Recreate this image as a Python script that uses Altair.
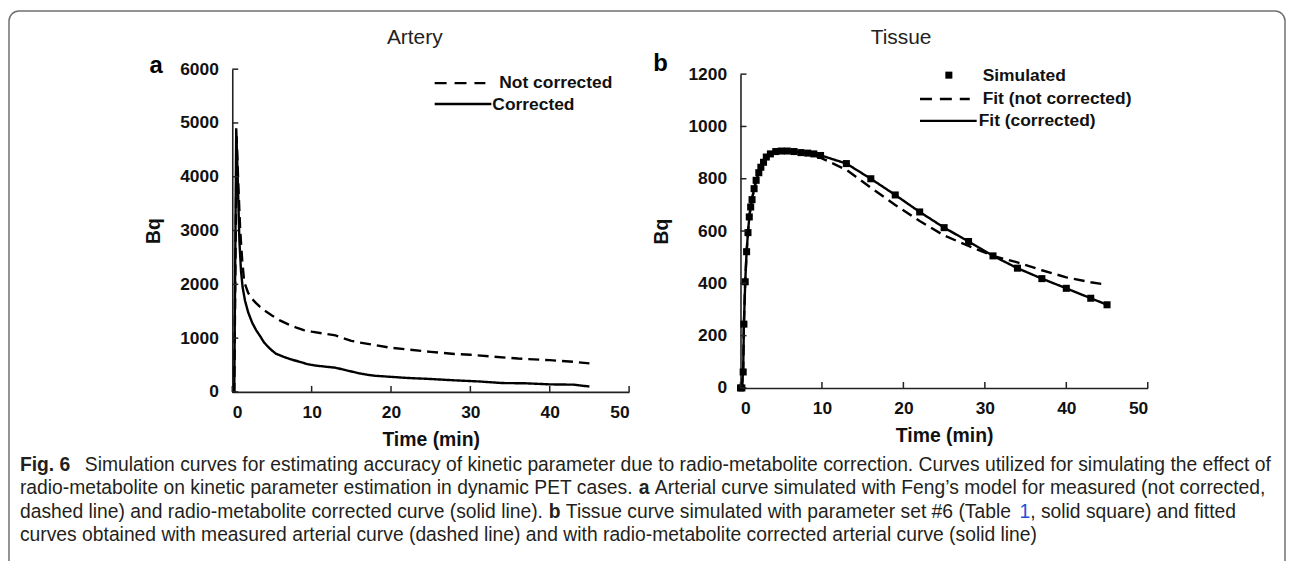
import altair as alt
import pandas as pd

# ---------------- data ----------------
# Panel a: arterial curves
art_time_nc = [0, 0.25, 0.55, 0.75, 1.0, 1.25, 1.5, 2.0, 2.5, 3.0, 3.5, 4.0, 5.0, 6.0, 7.0, 8.0, 9.0,
               10.0, 11.5, 13.0, 14.0, 15.0, 16.0, 18.0, 20.0, 22.0, 25.0, 28.0, 30.0, 33.0, 36.0,
               40.0, 43.0, 45.0]
art_nc = [0, 0, 4750, 3900, 3000, 2450, 2050, 1840, 1730, 1650, 1580, 1520, 1420, 1330, 1260, 1200,
          1150, 1120, 1085, 1050, 1000, 950, 920, 870, 820, 790, 745, 705, 690, 655, 620, 590, 560, 530]

art_time_c = [0, 0.25, 0.5, 0.7, 0.9, 1.1, 1.3, 1.6, 2.0, 2.5, 3.0, 3.5, 4.0, 4.5, 5.0, 5.5, 6.5,
              7.5, 8.5, 9.5, 10.5, 12.0, 13.0, 14.0, 15.0, 16.0, 17.0, 18.0, 20.0, 22.0, 25.0, 28.0,
              31.0, 34.0, 37.0, 40.0, 43.0, 45.0]
art_c = [0, 0, 4900, 3900, 2800, 2250, 1950, 1700, 1480, 1290, 1150, 1040, 920, 840, 770, 710, 650,
         600, 560, 515, 490, 465, 450, 415, 380, 345, 320, 300, 280, 260, 240, 215, 195, 165, 160,
         140, 135, 100]

# Panel b: tissue curve (simulated squares) and fits
sim_time = [0, 0.17, 0.33, 0.42, 0.58, 0.75, 0.92, 1.08, 1.25, 1.42, 1.67, 1.92, 2.25, 2.5, 2.83,
            3.17, 3.67, 4.33, 5.0, 5.75, 6.58, 7.42, 8.25, 9.0, 9.83, 13.0, 16.0, 19.0, 22.0, 25.0,
            28.0, 31.0, 34.0, 37.0, 40.0, 43.0, 45.0]
sim_val = [0, 0, 61, 244, 406, 521, 594, 654, 692, 720, 762, 794, 823, 844, 863, 883, 895, 904, 906,
           906, 904, 900, 898, 895, 889, 858, 800, 738, 673, 613, 560, 505, 458, 418, 381, 343, 318]

fit_time = [0, 0.17, 0.33, 0.42, 0.58, 0.75, 0.92, 1.08, 1.25, 1.5, 1.75, 2.0, 2.5, 3.0, 3.5, 4.0,
            5.0, 6.0, 7.0, 8.0, 9.0, 10.0, 13.0, 16.0, 19.0, 22.0, 25.0, 28.0, 31.0, 34.0, 37.0,
            40.0, 43.0, 45.0]
fit_c = [0, 0, 65, 245, 405, 520, 595, 652, 695, 735, 772, 800, 842, 872, 890, 899, 905, 905, 902,
         899, 895, 888, 858, 800, 738, 673, 613, 560, 505, 458, 418, 381, 343, 318]
fit_nc = [0, 0, 65, 245, 405, 520, 595, 652, 695, 735, 772, 800, 842, 872, 890, 899, 905, 905, 902,
          897, 890, 878, 834, 766, 700, 638, 583, 543, 505, 480, 450, 423, 404, 395]

series_a = ["Not corrected", "Corrected"]
series_b = ["Simulated", "Fit (not corrected)", "Fit (corrected)"]
titles = ["Artery", "Tissue"]
panel_letters = ["a", "b"]

x_ticks = [0, 10, 20, 30, 40, 50]
ya_ticks = [0, 1000, 2000, 3000, 4000, 5000, 6000]
yb_ticks = [0, 200, 400, 600, 800, 1000, 1200]

# caption: (text, bold, colour) segments per line
caption_lines = [
    [("Fig. 6", True, None),
     ("Simulation curves for estimating accuracy of kinetic parameter due to radio-metabolite "
      "correction. Curves utilized for simulating the effect of", False, None)],
    [("radio-metabolite on kinetic parameter estimation in dynamic PET cases.", False, None),
     ("a", True, None),
     ("Arterial curve simulated with Feng\u2019s model for measured (not corrected,", False, None)],
    [("dashed line) and radio-metabolite corrected curve (solid line).", False, None),
     ("b", True, None),
     ("Tissue curve simulated with parameter set #6 (Table", False, None),
     ("1", False, "link"),
     (", solid square) and fitted", False, None)],
    [("curves obtained with measured arterial curve (dashed line) and with radio-metabolite "
      "corrected arterial curve (solid line)", False, None)],
]

# ---------------- layout ----------------
W, H = 1286, 553
FONT = "Liberation Sans"
AX0, AX1, AY0, AY1 = 225.5, 624.5, 384.5, 60
BX0, BX1, BY0, BY1 = 736.5, 1146, 380.5, 65

# approximate Liberation Sans (Arial-metric) advance widths, per 1000 em
_REG = {' ': 278, '!': 278, '#': 556, "'": 191, '(': 333, ')': 333, ',': 278, '-': 333, '.': 278,
        ':': 278, ';': 278, '\u2019': 222,
        'A': 667, 'B': 667, 'C': 722, 'D': 722, 'E': 667, 'F': 611, 'G': 778, 'H': 722, 'I': 278,
        'J': 500, 'K': 667, 'L': 556, 'M': 833, 'N': 722, 'O': 778, 'P': 667, 'Q': 778, 'R': 722,
        'S': 667, 'T': 611, 'U': 722, 'V': 667, 'W': 944, 'X': 667, 'Y': 667, 'Z': 611,
        'a': 556, 'b': 556, 'c': 500, 'd': 556, 'e': 556, 'f': 278, 'g': 556, 'h': 556, 'i': 222,
        'j': 222, 'k': 500, 'l': 222, 'm': 833, 'n': 556, 'o': 556, 'p': 556, 'q': 556, 'r': 333,
        's': 500, 't': 278, 'u': 556, 'v': 500, 'w': 722, 'x': 500, 'y': 500, 'z': 500}
_BOLD = dict(_REG)
_BOLD.update({'b': 611, 'c': 556, 'd': 611, 'f': 333, 'g': 611, 'h': 611, 'i': 278, 'j': 278,
              'k': 556, 'l': 278, 'm': 889, 'n': 611, 'o': 611, 'p': 611, 'q': 611, 'r': 389,
              's': 556, 't': 333, 'u': 611, 'v': 556, 'w': 778, 'x': 556, 'y': 556})


def em_width(s, bold=False):
    tbl = _BOLD if bold else _REG
    return sum(tbl.get(c, 556) for c in s) / 1000.0


dfa = pd.DataFrame(
    [{"t": t, "v": v, "s": series_a[0]} for t, v in zip(art_time_nc, art_nc)]
    + [{"t": t, "v": v, "s": series_a[1]} for t, v in zip(art_time_c, art_c)]
)
dfa["o"] = range(len(dfa))
dfs = pd.DataFrame({"t": sim_time, "v": sim_val})
dff = pd.DataFrame(
    [{"t": t, "v": v, "s": series_b[1]} for t, v in zip(fit_time, fit_nc)]
    + [{"t": t, "v": v, "s": series_b[2]} for t, v in zip(fit_time, fit_c)]
)
dff["o"] = range(len(dff))
one = pd.DataFrame({"k": [0]})

xa = alt.Scale(domain=[0, 50], range=[AX0, AX1], nice=False, zero=False)
ya = alt.Scale(domain=[0, 6000], range=[AY0, AY1], nice=False)
xb = alt.Scale(domain=[0, 50], range=[BX0, BX1], nice=False, zero=False)
yb = alt.Scale(domain=[0, 1200], range=[BY0, BY1], nice=False)

DASH = [11, 6]
LEG_DASH = [12, 8]
LW = 2.4


def xaxis(offset):
    return alt.Axis(orient="bottom", offset=offset, values=x_ticks, format="d", ticks=False,
                    tickSize=0, grid=False, domainColor="#222", domainWidth=1.6, labelFont=FONT,
                    labelFontSize=17.5, labelFontWeight="bold", labelColor="#111",
                    labelPadding=12, title="Time (min)", titleFont=FONT, titleFontSize=19.5,
                    titleFontWeight="bold", titleColor="#111", titlePadding=9)


def yaxis(offset, vals):
    return alt.Axis(orient="left", offset=offset, values=vals, format="d", ticks=False,
                    tickSize=0, grid=False, domainColor="#222", domainWidth=1.6, labelFont=FONT,
                    labelFontSize=17.5, labelFontWeight="bold", labelColor="#111",
                    labelPadding=14, title="Bq", titleFont=FONT, titleFontSize=19.5,
                    titleFontWeight="bold", titleColor="#111", titlePadding=16)


dash_a = alt.Scale(domain=series_a, range=[DASH, [1, 0]])
dash_b = alt.Scale(domain=series_b[1:], range=[DASH, [1, 0]])

lines_a = alt.Chart(dfa).mark_line(color="black", strokeWidth=LW).encode(
    x=alt.X("t:Q", scale=xa, axis=xaxis(AY0 - H)),
    y=alt.Y("v:Q", scale=ya, axis=yaxis(-AX0, ya_ticks)),
    strokeDash=alt.StrokeDash("s:N", scale=dash_a, legend=None),
    detail="s:N",
    order="o:Q",
)

lines_b = alt.Chart(dff).mark_line(color="black", strokeWidth=LW).encode(
    x=alt.X("t:Q", scale=xb, axis=xaxis(BY0 - H)),
    y=alt.Y("v:Q", scale=yb, axis=yaxis(-BX0, yb_ticks)),
    strokeDash=alt.StrokeDash("s:N", scale=dash_b, legend=None),
    detail="s:N",
    order="o:Q",
)

points_b = alt.Chart(dfs).mark_square(size=50, color="black", opacity=1, filled=True).encode(
    x=alt.X("t:Q", scale=xb, axis=None),
    y=alt.Y("v:Q", scale=yb, axis=None),
)

# inward tick marks
dxt = pd.DataFrame({"v": x_ticks})
dyat = pd.DataFrame({"v": ya_ticks})
dybt = pd.DataFrame({"v": yb_ticks})
TK = 6
ticks_xa = alt.Chart(dxt).mark_rule(color="#222", strokeWidth=1.5).encode(
    x=alt.X("v:Q", scale=xa, axis=None), y=alt.value(AY0), y2=alt.value(AY0 - TK))
ticks_ya = alt.Chart(dyat).mark_rule(color="#222", strokeWidth=1.5).encode(
    y=alt.Y("v:Q", scale=ya, axis=None), x=alt.value(AX0), x2=alt.value(AX0 + TK))
ticks_xb = alt.Chart(dxt).mark_rule(color="#222", strokeWidth=1.5).encode(
    x=alt.X("v:Q", scale=xb, axis=None), y=alt.value(BY0), y2=alt.value(BY0 - TK))
ticks_yb = alt.Chart(dybt).mark_rule(color="#222", strokeWidth=1.5).encode(
    y=alt.Y("v:Q", scale=yb, axis=None), x=alt.value(BX0), x2=alt.value(BX0 + TK))


def txt(s, x, y, size=17.5, weight="bold", align="left", font=FONT, color="#111"):
    return alt.Chart(one).mark_text(text=s, align=align, baseline="middle", font=font,
                                    fontSize=size, fontWeight=weight, color=color).encode(
        x=alt.value(x), y=alt.value(y))


def seg(x, x2, y, dash=None):
    kw = dict(color="black", strokeWidth=LW)
    if dash:
        kw["strokeDash"] = dash
    return alt.Chart(one).mark_rule(**kw).encode(x=alt.value(x), x2=alt.value(x2), y=alt.value(y))


deco = [
    # frame
    alt.Chart(one).mark_rect(fillOpacity=0, stroke="#707070", strokeWidth=1.5,
                             cornerRadius=10).encode(
        x=alt.value(1), x2=alt.value(1284), y=alt.value(1.5), y2=alt.value(640)),
    # titles and panel letters
    txt(titles[0], 409, 29, size=21, weight="normal", align="center", color="#222"),
    txt(titles[1], 898, 29, size=21, weight="normal", align="center", color="#222"),
    txt(panel_letters[0], 149, 57, size=24, align="center", color="#000"),
    txt(panel_letters[1], 656, 55, size=24, align="center", color="#000"),
    # legend a
    seg(429, 480, 74, LEG_DASH), txt(series_a[0], 494, 74),
    seg(429, 486, 95), txt(series_a[1], 487, 96),
    # legend b
    alt.Chart(one).mark_square(size=50, color="black", opacity=1).encode(
        x=alt.value(946), y=alt.value(66)),
    txt(series_b[0], 980, 67),
    seg(917, 967, 90, LEG_DASH), txt(series_b[1], 980, 90),
    seg(917, 974, 112), txt(series_b[2], 976, 112),
]

# caption: font size chosen so that line 1 spans the width it has in the reference
CAP_X0, CAP_X1 = 12, 1271
CAP_Y = [458, 481.5, 505, 528.5]
l1 = caption_lines[0]
CS = (CAP_X1 - CAP_X0) / (em_width(l1[0][0], True) + 0.75 + em_width(l1[1][0]))
SP = em_width(" ") * CS
cap = []
for li, (line, y) in enumerate(zip(caption_lines, CAP_Y)):
    x = CAP_X0
    for si, (s, bold, col) in enumerate(line):
        if si > 0 and not s.startswith(","):
            x += SP if li > 0 else 0.75 * CS
        color = "#1f4fd8" if col == "link" else "#231f20"
        cap.append(txt(s, x, y, size=CS, weight="bold" if bold else "normal", color=color))
        x += em_width(s, bold) * CS

chart = alt.layer(
    lines_a, lines_b, points_b, ticks_xa, ticks_ya, ticks_xb, ticks_yb, *deco, *cap
).resolve_scale(
    x="independent", y="independent", strokeDash="independent"
).properties(
    width=W, height=H, padding=0, autosize=alt.AutoSizeParams(type="none"),
    background="white"
).configure_view(stroke=None)

chart.save("out.html", embed_options={"renderer": "svg", "actions": False})
